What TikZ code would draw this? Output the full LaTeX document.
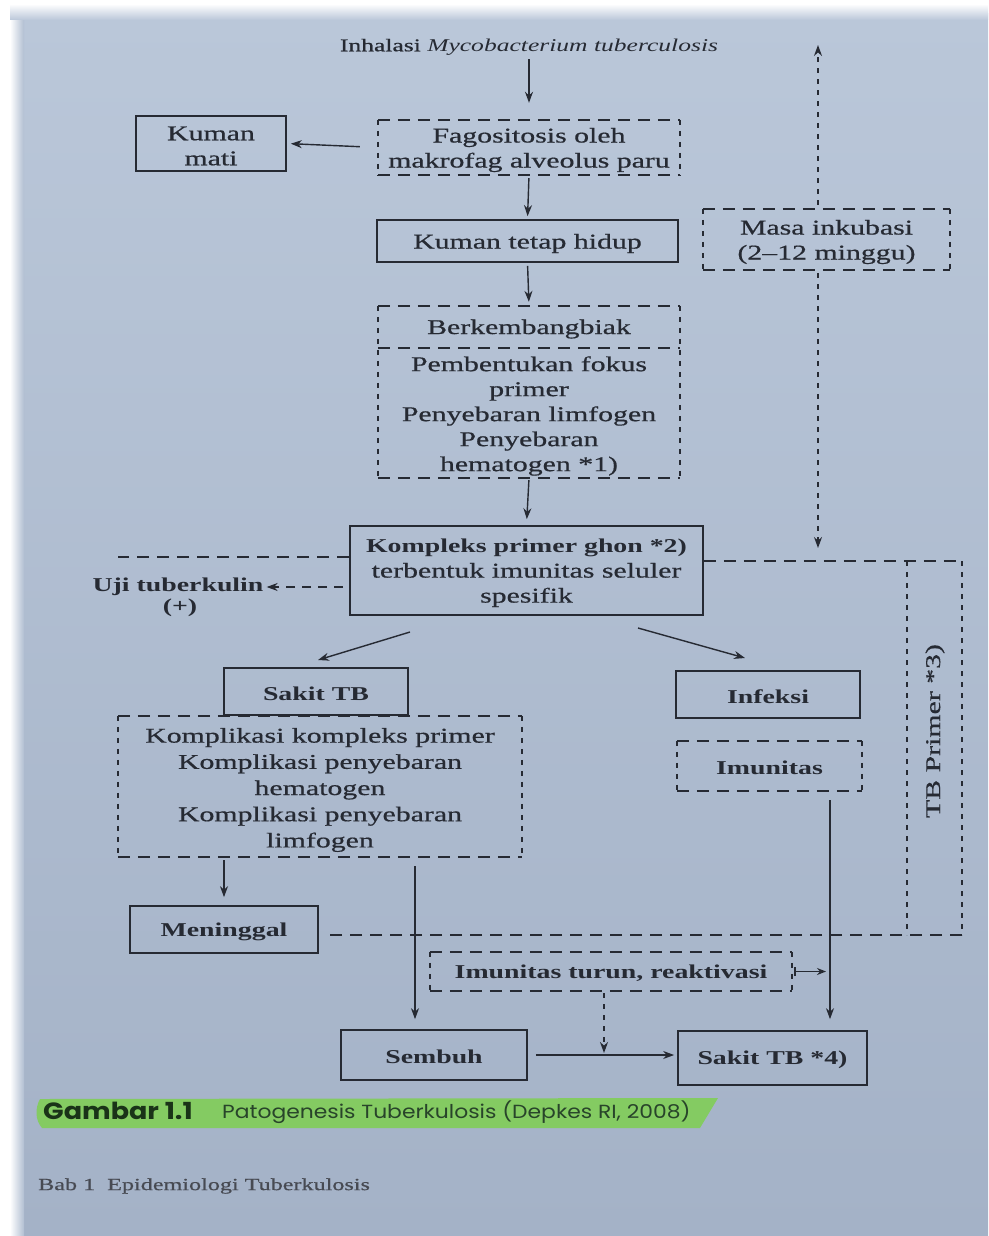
\documentclass[tikz,border=0pt]{standalone}
\usepackage{fontspec}
\setmainfont{Liberation Serif}[FakeStretch=1.42, UprightFeatures={FakeBold=0.6}]
\newfontfamily\capfont{Poppins}[FakeStretch=1.15]
\usetikzlibrary{arrows.meta}
\definecolor{ink}{HTML}{262A33}
\definecolor{pagetop}{HTML}{BAC7D9}
\definecolor{pagebot}{HTML}{A4B2C7}
\definecolor{hl}{HTML}{82CE5A}
\definecolor{capgreen}{HTML}{1A3318}
\definecolor{capgreen2}{HTML}{28442A}
\newcommand\dashedframe[1]{%
  \draw[hd] (#1.north west) -- (#1.north east) (#1.south west) -- (#1.south east);
  \draw[vd] (#1.north west) -- (#1.south west) (#1.north east) -- (#1.south east);}
\begin{document}
\begin{tikzpicture}[x=1pt,y=-1pt,
  txt/.style={font=\fontsize{21}{25}\selectfont, text=ink, inner sep=0pt, align=center},
  bld/.style={txt, font=\fontsize{19.6}{24}\selectfont\bfseries},
  T/.style={label={[txt, yshift=-2.5pt]center:{#1}}},
  TB/.style={label={[bld, yshift=-2pt]center:{#1}}},
  frame/.style={inner sep=0pt},
  bx/.style={frame, draw=ink, line width=1.7pt},
  arr/.style={draw=ink, line width=1.4pt, -{Stealth[length=11pt,width=8pt]}},
  darr/.style={arr, dash pattern=on 5pt off 6pt},
  hd/.style={draw=ink, line width=1.7pt, dash pattern=on 12pt off 8pt},
  vd/.style={draw=ink, line width=1.7pt, dash pattern=on 5pt off 6pt}]
\useasboundingbox (0,0) rectangle (988,1236);
\fill[white] (0,0) rectangle (988,1236);
\shade[top color=pagetop, bottom color=pagebot] (20,14) rectangle (988,1236);
\shade[left color=white, right color=pagetop!60!pagebot] (10,14) rectangle (24,1236);
\shade[top color=white, bottom color=pagetop] (10,4) rectangle (988,20);

% nodes
\node[txt, font=\fontsize{18}{22}\selectfont] (inh) at (529,47) {Inhalasi \textit{Mycobacterium tuberculosis}};
\node[bx, minimum width=150pt, minimum height=55pt, T={Kuman\\mati}] (mati) at (211,143.5) {};
\node[frame, minimum width=302pt, minimum height=55pt, T={Fagositosis oleh\\makrofag alveolus paru}] (fago) at (529,147.5) {};
\node[bx, minimum width=301pt, minimum height=42pt, T={Kuman tetap hidup}] (hidup) at (527.5,241) {};
\node[frame, minimum width=302pt, minimum height=172pt] (berk) at (529,392) {};
\node[txt] (berka) at (529,329) {Berkembangbiak};
\node[txt] (berkb) at (529,416) {Pembentukan fokus\\primer\\Penyebaran limfogen\\Penyebaran\\hematogen *1)};
\node[frame, minimum width=247pt, minimum height=61pt, T={Masa inkubasi\\(2--12 minggu)}] (masa) at (826.5,239.5) {};
\node[bx, minimum width=353pt, minimum height=89pt,
  T={{\fontsize{19.6}{24}\selectfont\bfseries Kompleks primer ghon *2)}\\terbentuk imunitas seluler\\spesifik}] (komp) at (526.5,570.5) {};
\node[bld] (uji) at (178,587) {Uji tuberkulin};
\node[bld] (plus) at (180,608) {(+)};
\node[bx, minimum width=184pt, minimum height=47pt, TB={Sakit TB}] (sakit) at (316,691.5) {};
\node[frame, minimum width=404pt, minimum height=141pt] (komp2) at (320,786.5) {};
\node[txt, font=\fontsize{21}{26.2}\selectfont] (komp2t) at (320,790) {Komplikasi kompleks primer\\Komplikasi penyebaran\\hematogen\\Komplikasi penyebaran\\limfogen};
\node[bx, minimum width=184pt, minimum height=47pt, TB={Infeksi}] (infeksi) at (768,694.5) {};
\node[frame, minimum width=185pt, minimum height=50pt, TB={Imunitas}] (imun) at (769.5,766) {};
\node[bx, minimum width=188pt, minimum height=47pt, TB={Meninggal}] (mening) at (224,929.5) {};
\node[frame, minimum width=362pt, minimum height=39pt, TB={Imunitas turun, reaktivasi}] (turun) at (611,971.5) {};
\node[bx, minimum width=186pt, minimum height=50pt, TB={Sembuh}] (sembuh) at (434,1055) {};
\node[bx, minimum width=189pt, minimum height=54pt, TB={Sakit TB *4)}] (sakit4) at (772.5,1058) {};
\node[txt, rotate=90] (tbp) at (935,731) {TB Primer *3)};

% dashed frames
\dashedframe{fago}
\dashedframe{berk}
\draw[hd] ([yshift=-42pt]berk.north west) -- ([yshift=-42pt]berk.north east);
\dashedframe{masa}
\dashedframe{komp2}
\dashedframe{imun}
\dashedframe{turun}

% coordinates
\coordinate (lend) at (118,557);
\coordinate (tr) at (962,561);
\coordinate (br) at (962,935);
\coordinate (tl) at (907,561);
\coordinate (bl) at (907,935);
\coordinate (mtop) at (818,45);
\coordinate (mbot) at (818,548);
\coordinate (d1s) at (410,632);
\coordinate (d1e) at (318,660);
\coordinate (d2s) at (638,628);
\coordinate (d2e) at (745,658);
\coordinate (a2) at (415,0);
\coordinate (a3) at (830,0);
\coordinate (a4) at (604,1053);

% connectors
\draw[arr, shorten <=4pt, shorten >=17pt] (inh.south) -- (fago.north);
\draw[arr, shorten <=18pt, shorten >=4pt] (fago.west) -- (mati.east);
\draw[arr, shorten <=3pt, shorten >=3pt] (fago.south) -- (hidup.north);
\draw[arr, shorten <=3pt, shorten >=4pt] (hidup.south) -- (berk.north);
\draw[arr, shorten <=2pt, shorten >=6pt] (berk.south) -- (komp.north);
\draw[darr, shorten <=4pt] (masa.north -| mtop) -- (mtop);
\draw[darr, shorten <=3pt] (masa.south -| mtop) -- (mbot);
\draw[hd] (lend -| komp.west) -- (lend);
\draw[arr, dash pattern=on 9pt off 7pt, shorten <=6pt, shorten >=3pt] (komp.west |- uji.east) -- (uji.east);
\draw[hd] (tr -| komp.east) -- (tr);
\draw[vd] (tr) -- (br);
\draw[vd] (tl) -- (bl);
\draw[hd, shorten >=7pt] (br) -- (br -| mening.east);
\draw[arr] (d1s) -- (d1e);
\draw[arr] (d2s) -- (d2e);
\draw[arr, shorten <=3pt, shorten >=8pt] (mening.north |- komp2.south) -- (mening.north);
\draw[arr, shorten <=9pt, shorten >=10pt] (komp2.south -| a2) -- (sembuh.north -| a2);
\draw[arr, shorten <=9pt, shorten >=11pt] (imun.south -| a3) -- (sakit4.north -| a3);
\draw[draw=ink, line width=1.4pt, {Bar[width=9pt]}-{Stealth[length=9pt,width=7pt]}, shorten <=2pt, shorten >=4pt] (turun.east) -- (turun.east -| a3);
\draw[darr, shorten <=2pt] (turun.south -| a4) -- (a4);
\draw[arr, shorten <=8pt, shorten >=3pt] (sembuh.east) -- (sembuh.east -| sakit4.west);

% caption
\fill[hl, opacity=0.92] (40,1099) .. controls (35,1108) and (35,1120) .. (42,1128) -- (700,1128) -- (718,1098) -- cycle;
\node[anchor=west, inner sep=0pt, text=capgreen, font=\capfont\fontsize{23.5}{27}\selectfont\bfseries] (gam) at (43,1111) {Gambar 1.1};
\node[anchor=west, inner sep=0pt, text=capgreen2, font=\capfont\fontsize{19}{24}\selectfont] (pat) at (222,1112) {Patogenesis Tuberkulosis (Depkes RI, 2008)};
\node[anchor=west, inner sep=0pt, text=ink!85, font=\fontsize{17}{20}\selectfont] (bab) at (38,1186) {Bab 1\ \ Epidemiologi Tuberkulosis};
\end{tikzpicture}
\end{document}
